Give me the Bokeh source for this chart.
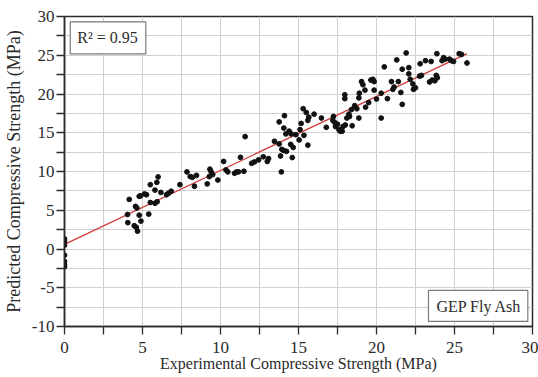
from bokeh.plotting import figure
from bokeh.models import Range1d, FixedTicker, Label
from bokeh.embed import file_html
from bokeh.resources import INLINE

# experimental vs predicted compressive strength (MPa)
exp_x = [0, 0, 0, 0, 0, 0, 0,
         4.04, 4.15, 4.06, 4.47, 4.6, 4.68, 4.55, 4.64, 4.79, 4.87, 4.79, 4.9, 5.13, 5.26, 5.4, 5.5, 5.5, 5.8, 5.8,
         5.92, 6.0, 5.94, 6.18, 6.54, 6.67, 6.84, 7.4, 7.85, 8.06, 8.2, 8.33, 8.46,
         9.15, 9.32, 9.4, 9.28, 9.5, 9.83, 10.2, 10.35, 10.47, 10.9, 11.03, 11.15, 11.28, 11.5, 11.58, 12.0, 12.18,
         12.44, 12.74, 13.0, 13.08, 13.46, 13.76, 13.76, 13.85, 13.9, 13.93, 14.06, 14.1, 14.06, 14.19, 14.23, 14.4,
         14.5, 14.53, 14.6, 14.66, 14.83, 15.04, 15.17,
         15.35, 15.6, 15.3, 15.5, 15.6, 15.1, 15.66,
         16.0, 16.47, 16.78, 17.2, 17.24, 17.33, 17.37, 17.5, 17.59, 17.67, 17.8, 17.85, 17.97, 17.97, 18.0, 18.1,
         18.23, 18.27, 18.4, 18.44, 18.6, 18.74, 18.87, 18.87, 18.9, 19.04, 19.13, 19.26, 19.3, 19.5, 19.64, 19.77,
         19.85, 19.85, 20.0, 20.3, 20.3, 20.5, 20.7, 20.96, 21.05, 21.13, 21.3, 21.4, 21.56, 21.65, 21.65, 22.07,
         22.07, 22.16, 22.33, 22.37, 22.5,
         21.9, 22.76, 22.8, 22.88, 23.14, 23.4, 23.5, 23.57, 23.74, 23.83, 23.87, 23.9, 24.2, 24.3, 24.4, 24.68,
         24.8, 24.94, 25.3, 25.45, 25.8]
pred_y = [1.3, 1.0, 0.5, -0.8, -1.6, -2.0, -2.3,
          4.45, 6.4, 3.4, 3.0, 2.8, 2.3, 5.5, 5.3, 6.8, 6.85, 4.36, 3.6, 7.1, 7.0, 4.5, 8.3, 6.0, 7.6, 5.9,
          8.6, 9.3, 6.1, 7.3, 7.0, 7.2, 7.45, 8.3, 9.95, 9.35, 9.25, 8.1, 9.5,
          8.4, 10.3, 9.95, 9.34, 9.6, 8.9, 11.3, 10.2, 9.95, 9.77, 9.95, 9.95, 11.83, 10.03, 14.5, 11.06, 11.24,
          11.5, 11.9, 11.3, 11.66, 13.9, 16.4, 13.56, 12.0, 9.95, 12.86, 15.6, 17.2, 12.7, 14.85, 12.6, 15.2,
          13.5, 14.85, 11.8, 13.1, 14.75, 14.07, 16.2,
          14.67, 13.4, 18.1, 17.6, 16.6, 15.4, 17.0,
          17.4, 16.9, 15.7, 16.6, 17.1, 16.3, 15.8, 16.1, 15.4, 15.2, 15.2, 15.8, 19.9, 19.4, 16.0, 16.9,
          17.4, 17.1, 18.0, 15.9, 18.5, 18.1, 16.9, 19.5, 20.1, 21.6, 21.2, 20.5, 18.3, 18.9, 21.8, 21.9,
          21.6, 20.5, 19.35, 20.1, 16.9, 23.5, 19.4, 21.6, 20.6, 20.9, 24.4, 21.6, 20.2, 23.2, 18.66, 23.4,
          22.6, 21.9, 21.3, 20.6, 20.8,
          25.3, 22.3, 23.9, 22.4, 24.3, 21.55, 24.2, 21.8, 21.7, 22.4, 25.2, 22.1, 24.3, 24.7, 24.5, 24.5,
          24.3, 24.2, 25.2, 25.1, 24.0]

# fitted trend line end points
fit_x = [0, 25.8]
fit_y = [0.6, 25.2]

x_major = [0, 5, 10, 15, 20, 25, 30]
x_minor = [2.5, 7.5, 12.5, 17.5, 22.5, 27.5]
y_major = [-10, -5, 0, 5, 10, 15, 20, 25, 30]
y_minor = [-7.5, -2.5, 2.5, 7.5, 12.5, 17.5, 22.5, 27.5]
y_tick_text = {-10: "-10", -5: "-5"}

x_title = "Experimental Compressive Strength (MPa)"
y_title = "Predicted Compressive Strength (MPa)"

FONT = "Liberation Serif"
DARK = "#2b2b2b"
GRID = "#d0d0d0"

p = figure(width=538, height=377, output_backend="svg", toolbar_location=None,
           x_range=Range1d(0, 30), y_range=Range1d(-10, 30),
           min_border_left=64, min_border_right=6, min_border_top=16, min_border_bottom=51)

p.xaxis.ticker = FixedTicker(ticks=x_major, minor_ticks=x_minor)
p.yaxis.ticker = FixedTicker(ticks=y_major, minor_ticks=y_minor)
p.yaxis.major_label_overrides = y_tick_text

for ax in (p.xaxis[0], p.yaxis[0]):
    ax.axis_line_color = DARK
    ax.axis_line_width = 1.5
    ax.major_tick_line_color = DARK
    ax.minor_tick_line_color = DARK
    ax.major_tick_line_width = 1.3
    ax.minor_tick_line_width = 1.3
    ax.major_tick_out = 8
    ax.major_tick_in = 0
    ax.minor_tick_out = 8
    ax.minor_tick_in = 0
    ax.major_label_text_font = FONT
    ax.major_label_text_font_size = "17px"
    ax.major_label_text_color = DARK
    ax.axis_label_text_font = FONT
    ax.axis_label_text_font_style = "normal"
    ax.axis_label_text_color = DARK

p.xaxis.axis_label = x_title
p.yaxis.axis_label = y_title
p.xaxis.axis_label_text_font_size = "16px"
p.yaxis.axis_label_text_font_size = "18px"
p.xaxis.major_label_standoff = 7
p.xaxis.axis_label_standoff = -1
p.yaxis.major_label_standoff = 2
p.yaxis.axis_label_standoff = 5

for g in (p.xgrid[0], p.ygrid[0]):
    g.grid_line_color = GRID
    g.grid_line_width = 1
    g.minor_grid_line_color = GRID
    g.minor_grid_line_width = 1

p.outline_line_color = DARK
p.outline_line_width = 1.5
p.background_fill_color = "white"
p.border_fill_color = "white"

p.line(fit_x, fit_y, line_color="#d23a3a", line_width=1.3)
p.scatter(exp_x, pred_y, size=4.8, fill_color="#111111", line_color="#111111")

r2 = Label(x=0.37, y=29.3, text="R² = 0.95", anchor="top_left",
           text_font=FONT, text_font_size="16px", text_color=DARK,
           padding=(7, 8, 7, 8), border_line_color="#7a7a7a", border_line_width=1.2,
           background_fill_color="white")
tag = Label(x=29.7, y=-9.34, text="GEP Fly Ash", anchor="bottom_right",
            text_font=FONT, text_font_size="16px", text_color=DARK,
            padding=(8, 6, 8, 6), border_line_color="#7a7a7a", border_line_width=1.2,
            background_fill_color="white")
p.add_layout(r2)
p.add_layout(tag)

open("out.html", "w").write(file_html(p, INLINE))
